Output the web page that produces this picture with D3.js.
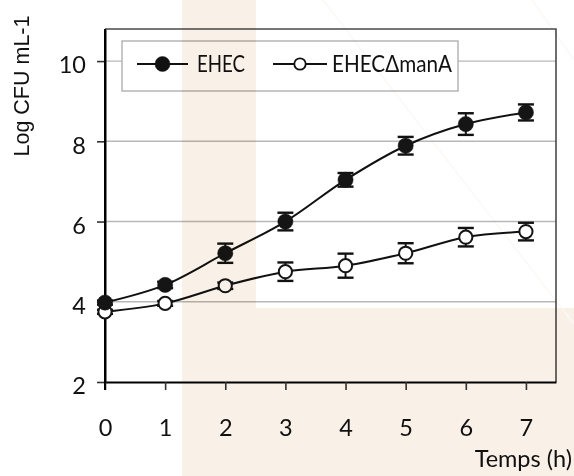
<!DOCTYPE html>
<html><head><meta charset="utf-8">
<script src="https://cdn.jsdelivr.net/npm/d3@7"></script>
<style>
html,body{margin:0;padding:0;background:#fff;}
svg{display:block;}
</style></head>
<body>
<svg id="chart" width="574" height="476"></svg>
<script>
// ---- data ----
const hours = [0, 1, 2, 3, 4, 5, 6, 7];
const ehec = [3.98, 4.42, 5.21, 6.0, 7.04, 7.89, 8.43, 8.72];
const ehecErr = [0.05, 0.08, 0.24, 0.22, 0.17, 0.22, 0.27, 0.2];
const mutant = [3.75, 3.96, 4.40, 4.75, 4.90, 5.21, 5.61, 5.75];
const mutantErr = [0.05, 0.06, 0.08, 0.23, 0.30, 0.25, 0.23, 0.22];
const yTicks = [2, 4, 6, 8, 10];
const gridValues = [4, 6, 8, 10];
const seriesNames = ["EHEC", "EHECΔmanA"];
const xTitle = "Temps (h)";
const yTitle = "Log CFU mL-1";

const svg = d3.select("#chart");
const font = "Lato, 'Open Sans', sans-serif";

const x = d3.scaleLinear().domain([0, 7.5]).range([105, 556]);
const y = d3.scaleLinear().domain([2, 10.8]).range([382, 29]);

// gridlines
svg.append("g").selectAll("line").data(gridValues).join("line")
  .attr("x1", x(0)).attr("x2", x(7.5))
  .attr("y1", d => y(d)).attr("y2", d => y(d))
  .attr("stroke", "#b8b8b8").attr("stroke-width", 1.4);

// frame top & right
svg.append("path")
  .attr("d", `M${x(0)},${y(10.8)}H${x(7.5)}V${y(2)}`)
  .attr("fill", "none").attr("stroke", "#4a4a4a").attr("stroke-width", 1.6);

// x axis
const xAxis = svg.append("g").attr("transform", `translate(0,${y(2)})`)
  .call(d3.axisBottom(x).tickValues(hours).tickSize(8).tickSizeOuter(0).tickPadding(29).tickFormat(d3.format("d")));
xAxis.select(".domain").attr("stroke", "#000").attr("stroke-width", 2);
xAxis.selectAll(".tick line").attr("stroke", "#333").attr("stroke-width", 1.6);
xAxis.selectAll("text").attr("font-family", font).attr("font-size", 23.5).attr("fill", "#111");

// y axis
const yAxis = svg.append("g").attr("transform", `translate(${x(0)},0)`)
  .call(d3.axisLeft(y).tickValues(yTicks).tickSize(8).tickSizeOuter(0).tickPadding(11).tickFormat(d3.format("d")));
yAxis.select(".domain").attr("stroke", "#000").attr("stroke-width", 2);
yAxis.selectAll(".tick line").attr("stroke", "#333").attr("stroke-width", 1.6);
yAxis.selectAll("text").attr("font-family", font).attr("font-size", 23.5).attr("fill", "#111").attr("dy", "0.5em");
// extend y axis line to top and below bottom
svg.append("line").attr("x1", x(0)).attr("x2", x(0)).attr("y1", y(10.8)).attr("y2", y(2) + 8)
  .attr("stroke", "#000").attr("stroke-width", 2);

// titles
svg.append("text").attr("x", 572).attr("y", 467).attr("text-anchor", "end")
  .attr("font-family", font).attr("font-size", 23.5).attr("fill", "#111").text(xTitle);
svg.append("text").attr("transform", "translate(29,86) rotate(-90)").attr("text-anchor", "middle")
  .attr("font-family", "'Liberation Sans', Arial, sans-serif").attr("font-size", 21.5).attr("fill", "#111").text(yTitle);

// series
const line = d3.line().x((d, i) => x(hours[i])).y(d => y(d)).curve(d3.curveCatmullRom.alpha(0.5));

function drawSeries(vals, errs, filled) {
  const g = svg.append("g");
  g.append("path").attr("d", line(vals)).attr("fill", "none").attr("stroke", "#111").attr("stroke-width", 2);
  const eb = g.append("g").selectAll("g").data(vals).join("g");
  eb.append("line").attr("x1", (d, i) => x(hours[i])).attr("x2", (d, i) => x(hours[i]))
    .attr("y1", (d, i) => y(d + errs[i])).attr("y2", (d, i) => y(d - errs[i]))
    .attr("stroke", "#111").attr("stroke-width", 2);
  [1, -1].forEach(s => {
    eb.append("line").attr("x1", (d, i) => x(hours[i]) - 8).attr("x2", (d, i) => x(hours[i]) + 8)
      .attr("y1", (d, i) => y(d + s * errs[i])).attr("y2", (d, i) => y(d + s * errs[i]))
      .attr("stroke", "#111").attr("stroke-width", 2.4);
  });
  g.append("g").selectAll("circle").data(vals).join("circle")
    .attr("cx", (d, i) => x(hours[i])).attr("cy", d => y(d))
    .attr("r", filled ? 7.6 : 6.6)
    .attr("fill", filled ? "#151515" : "#fff")
    .attr("stroke", "#151515").attr("stroke-width", filled ? 0.5 : 2);
}
drawSeries(mutant, mutantErr, false);
drawSeries(ehec, ehecErr, true);

// legend
const lg = svg.append("g");
lg.append("rect").attr("x", 122).attr("y", 41).attr("width", 336).attr("height", 50)
  .attr("fill", "#fff").attr("stroke", "#b0b0b0").attr("stroke-width", 1.4);
const legendItems = [
  {name: seriesNames[0], x1: 137, x2: 188, filled: true, tx: 197, tl: 48},
  {name: seriesNames[1], x1: 273, x2: 327, filled: false, tx: 332, tl: 120}
];
legendItems.forEach(it => {
  lg.append("line").attr("x1", it.x1).attr("x2", it.x2).attr("y1", 64).attr("y2", 64)
    .attr("stroke", "#111").attr("stroke-width", 2);
  lg.append("circle").attr("cx", (it.x1 + it.x2) / 2).attr("cy", 64)
    .attr("r", it.filled ? 7.5 : 5.7).attr("fill", it.filled ? "#111" : "#fff")
    .attr("stroke", "#111").attr("stroke-width", it.filled ? 0.5 : 1.8);
  lg.append("text").attr("x", it.tx).attr("y", 72).attr("font-family", font).attr("font-size", 22.5)
    .attr("fill", "#111").attr("textLength", it.tl).attr("lengthAdjust", "spacingAndGlyphs").text(it.name);
});

// watermark overlay
const wm = svg.append("g").style("mix-blend-mode", "multiply").attr("pointer-events", "none");
wm.append("path").attr("d", "M182,0H256V308H574V476H182Z").attr("fill", "#f9f0e7");
wm.append("line").attr("x1", 323).attr("y1", 0).attr("x2", 574).attr("y2", 324).attr("stroke", "#fbf8f5").attr("stroke-width", 1.5);
wm.append("line").attr("x1", 532).attr("y1", 0).attr("x2", 574).attr("y2", 60).attr("stroke", "#fbf8f5").attr("stroke-width", 1.5);
</script>
</body></html>
